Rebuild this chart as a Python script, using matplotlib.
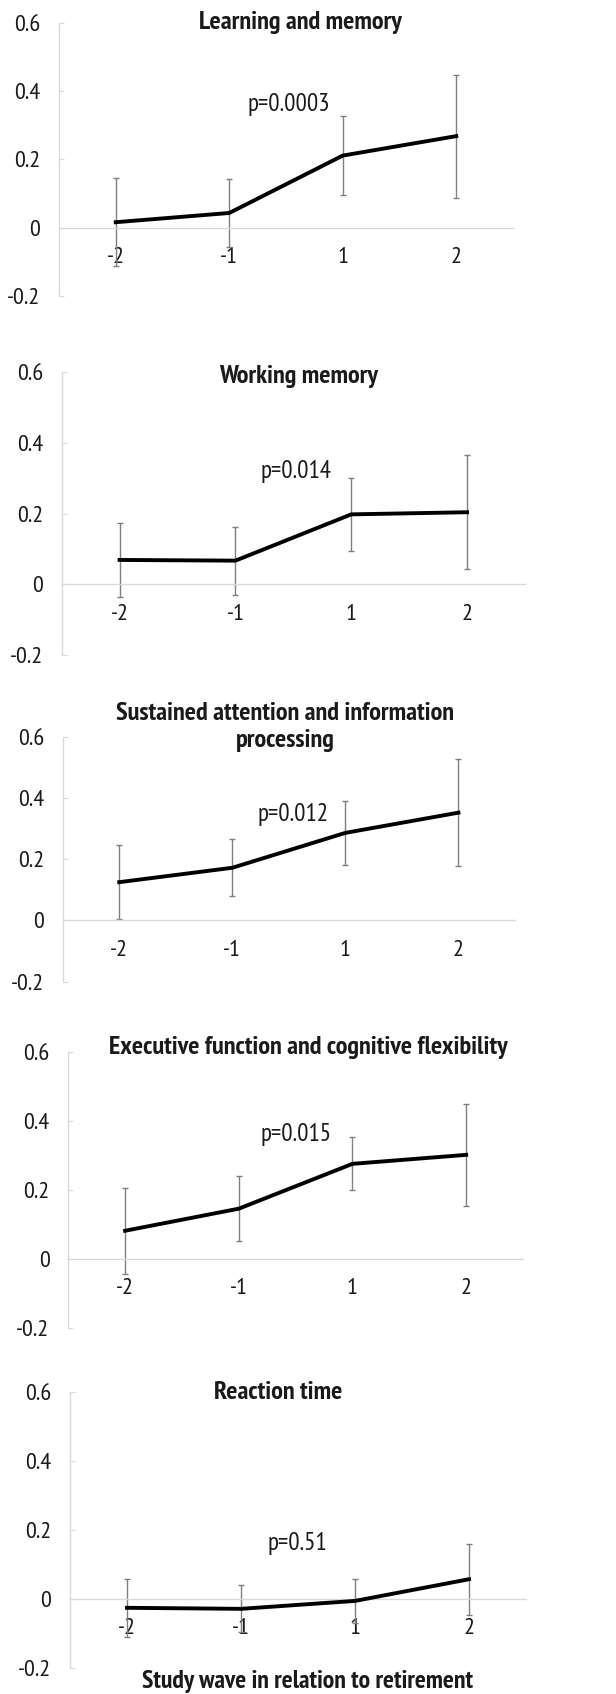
import matplotlib
matplotlib.use("Agg")
import matplotlib.pyplot as plt
from matplotlib import font_manager

# ---------------- data ----------------
waves = ['-2', '-1', '1', '2']
titles = ['Learning and memory',
          'Working memory',
          'Sustained attention and information\nprocessing',
          'Executive function and cognitive flexibility',
          'Reaction time']
p_labels = ['p=0.0003', 'p=0.014', 'p=0.012', 'p=0.015', 'p=0.51']

mean_learning = [0.016, 0.043, 0.211, 0.268]
err_learning = [0.129, 0.100, 0.115, 0.180]
mean_working = [0.069, 0.067, 0.198, 0.204]
err_working = [0.104, 0.096, 0.103, 0.162]
mean_attention = [0.125, 0.172, 0.286, 0.352]
err_attention = [0.120, 0.093, 0.104, 0.174]
mean_executive = [0.081, 0.145, 0.275, 0.301]
err_executive = [0.124, 0.095, 0.077, 0.148]
mean_reaction = [-0.026, -0.029, -0.006, 0.057]
err_reaction = [0.084, 0.068, 0.063, 0.103]

means = [mean_learning, mean_working, mean_attention, mean_executive, mean_reaction]
errs = [err_learning, err_working, err_attention, err_executive, err_reaction]

yticks = [-0.2, 0, 0.2, 0.4, 0.6]
ytick_labels = ['-0.2', '0', '0.2', '0.4', '0.6']
xlabel = 'Study wave in relation to retirement'

# ---------------- font choice (narrow sans like Arial Narrow) ----------------
fonts = font_manager.fontManager.ttflist
def has_static(name, bold):
    for f in fonts:
        if f.name == name and '[' not in f.fname:
            w = f.weight if isinstance(f.weight, int) else (700 if 'bold' in str(f.weight) else 400)
            if (bold and w >= 700) or (not bold and 350 <= w <= 500):
                return True
    return False

candidates = ['Liberation Sans Narrow', 'Arial Narrow', 'Archivo Narrow', 'PT Sans Narrow',
              'Roboto Condensed', 'Open Sans Condensed', 'Barlow Semi Condensed',
              'Liberation Sans']
chosen = 'Liberation Sans'
for c in candidates:
    if has_static(c, False) and has_static(c, True):
        chosen = c
        break
plt.rcParams['font.family'] = [chosen, 'DejaVu Sans']

# ---------------- layout (pixels) ----------------
W, H = 616, 1694
# (left, right, top(0.6), bottom(-0.2)) in pixels
axes_px = [(59, 513, 22.7, 296.0),
           (61.7, 525, 372.3, 655.0),
           (62.7, 515, 736.7, 981.7),
           (68.3, 523, 1051.7, 1327.7),
           (70, 526, 1392.3, 1667.7)]
title_px = [(300, 23), (298, 377), (285, 727), (308, 1047), (278, 1392)]
p_pos = [(1.52, 0.362), (1.52, 0.318), (1.54, 0.347), (1.50, 0.361), (1.49, 0.161)]

txt = '#1a1a1a'
grid_col = '#d9d9d9'

fig = plt.figure(figsize=(W / 100, H / 100), dpi=100)

for i in range(5):
    l, r, t, b = axes_px[i]
    ax = fig.add_axes([l / W, 1 - b / H, (r - l) / W, (b - t) / H])
    x = list(range(len(waves)))
    ax.errorbar(x, means[i], yerr=errs[i], fmt='none', ecolor='#7f7f7f',
                elinewidth=1.0, capsize=2.5, capthick=1.0, zorder=2)
    ax.plot(x, means[i], color='black', linewidth=2.8, zorder=3,
            solid_joinstyle='round')
    ax.set_xlim(-0.5, len(waves) - 0.5)
    ax.set_ylim(-0.2, 0.6)
    ax.set_yticks(yticks)
    ax.set_yticklabels(ytick_labels)
    ax.set_xticks(x)
    ax.set_xticklabels(waves)
    for s in ['top', 'right']:
        ax.spines[s].set_visible(False)
    ax.spines['bottom'].set_position(('data', 0))
    ax.spines['bottom'].set_color(grid_col)
    ax.spines['left'].set_color(grid_col)
    ax.spines['bottom'].set_linewidth(1.0)
    ax.spines['left'].set_linewidth(1.0)
    ax.tick_params(axis='x', length=0, pad=14, labelsize=17.5, labelcolor=txt)
    ax.tick_params(axis='y', direction='in', length=3.5, color=grid_col,
                   pad=13.5, labelsize=17.5, labelcolor=txt)
    ax.patch.set_alpha(0)
    ax.text(p_pos[i][0], p_pos[i][1], p_labels[i], ha='center', va='center',
            fontsize=18, color=txt)
    tx, ty = title_px[i]
    fig.text(tx / W, 1 - ty / H, titles[i], ha='center', va='center',
             fontsize=19, fontweight='bold', color=txt, linespacing=1.2)

fig.text(307 / W, 1 - 1693 / H, xlabel, ha='center', va='bottom',
         fontsize=18.5, fontweight='bold', color=txt)

fig.savefig('out.png', dpi=100)
